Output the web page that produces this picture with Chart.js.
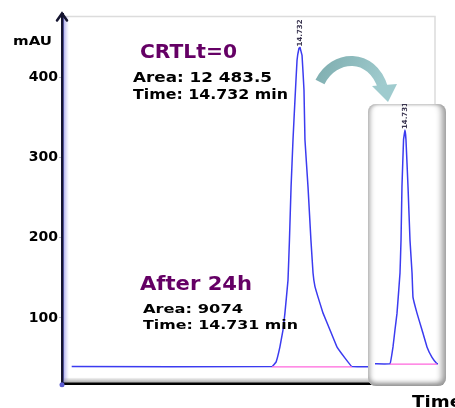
<!DOCTYPE html>
<html>
<head>
<meta charset="utf-8">
<script src="https://cdn.jsdelivr.net/npm/chart.js@4/dist/chart.umd.min.js"></script>
<style>
html,body{margin:0;padding:0;background:#fff;}
#wrap{position:relative;width:455px;height:408px;overflow:hidden;}
#main{position:absolute;left:0;top:0;}
#insetBox{position:absolute;left:368px;top:104px;width:78px;height:282px;border-radius:8px;background:#fff;
 box-shadow: inset 5px 0 5px -3px #a8a8a8, inset -8px 0 6px -4px #9a9a9a, inset 0 -7px 5px -4px #8c8c8c, inset 0 3px 3px -2px #c4c4c4;}
#inset{position:absolute;left:0;top:0;}
</style>
</head>
<body>
<div id="wrap">
<canvas id="main" width="455" height="408"></canvas>
<div id="insetBox"><canvas id="inset" width="78" height="282"></canvas></div>
</div>
<script>
// ---- data (time in min, signal in mAU) ----
const yTicks = [100, 200, 300, 400];

const ctrlTime   = [0.6, 13.0, 13.25, 13.49, 13.68, 13.80, 13.99, 14.08, 14.18, 14.30, 14.42, 14.55, 14.67, 14.73, 14.86, 14.98, 15.04, 15.23, 15.41, 15.54, 15.66, 15.85, 16.16, 16.59, 17.02, 17.52, 17.95, 20.0];
const ctrlSignal = [39.4, 39.4, 45, 64, 85, 106, 147, 197, 263, 322, 371, 421, 436, 437, 427, 384, 322, 263, 197, 156, 139, 126, 106, 85, 64, 50, 39.4, 39.4];
const ctrlBaseTime   = [13.0, 17.95];
const ctrlBaseSignal = [39.0, 39.0];

const h24Time   = [11.52, 13.13, 13.45, 13.66, 13.88, 14.20, 14.31, 14.41, 14.58, 14.73, 14.84, 15.06, 15.27, 15.49, 15.59, 16.02, 16.56, 17.09, 17.63, 18.16, 18.27];
const h24Signal = [43, 43, 64, 85, 106, 156, 197, 263, 322, 334, 322, 263, 197, 156, 126, 106, 85, 64, 51, 43, 43];
const h24BaseTime   = [13.13, 18.16];
const h24BaseSignal = [42.6, 42.6];

const ctrlLabel = "CRTLt=0";
const ctrlArea = "Area: 12 483.5";
const ctrlRt = "Time: 14.732 min";
const h24Label = "After 24h";
const h24Area = "Area: 9074";
const h24Rt = "Time: 14.731 min";
const ctrlPeakTag = "14.732";
const h24PeakTag = "14.731";

const pts = (xs, ys) => xs.map((x, i) => ({x, y: ys[i]}));

function fitText(ctx, text, x, y, w, font, color) {
  ctx.save();
  ctx.font = font;
  ctx.fillStyle = color;
  ctx.textBaseline = 'middle';
  ctx.textAlign = 'left';
  const m = ctx.measureText(text).width;
  ctx.translate(x, y);
  ctx.scale(w / m, 1);
  ctx.fillText(text, 0, 0);
  ctx.restore();
}

function peakTag(ctx, text, px, pyTop) {
  ctx.save();
  ctx.translate(px, pyTop - 1);
  ctx.rotate(-Math.PI / 2);
  ctx.font = 'bold 7px "DejaVu Sans"';
  ctx.textBaseline = 'middle';
  ctx.textAlign = 'left';
  ctx.fillStyle = '#3a3550';
  ctx.fillText(text, 0, 0);
  ctx.restore();
}

const decoMain = {
  id: 'decoMain',
  beforeDatasetsDraw(chart) {
    const ctx = chart.ctx, a = chart.chartArea;
    ctx.save();
    // frame
    ctx.strokeStyle = '#dcdcdc'; ctx.lineWidth = 1.5;
    ctx.beginPath(); ctx.moveTo(a.left + 3, a.top + 2); ctx.lineTo(435, a.top + 2); ctx.lineTo(435, 104); ctx.stroke();
    // y axis blue shade
    const g = ctx.createLinearGradient(a.left, 0, a.left + 7, 0);
    g.addColorStop(0, 'rgba(110,110,220,0.75)'); g.addColorStop(1, 'rgba(160,160,240,0)');
    ctx.fillStyle = g; ctx.fillRect(a.left + 1, a.top + 2, 7, a.bottom - a.top - 3);
    // bottom gray band
    const g2 = ctx.createLinearGradient(0, a.bottom - 6, 0, a.bottom);
    g2.addColorStop(0, 'rgba(150,150,150,0.1)'); g2.addColorStop(1, 'rgba(140,140,140,0.9)');
    ctx.fillStyle = g2; ctx.fillRect(a.left + 2, a.bottom - 6, 368 - a.left, 5);
    ctx.restore();
  },
  afterDraw(chart) {
    const ctx = chart.ctx, a = chart.chartArea;
    const xs = chart.scales.x, ys = chart.scales.y;
    ctx.save();
    // y axis arrow head
    ctx.strokeStyle = '#151530'; ctx.lineWidth = 2.5; ctx.lineCap = 'round';
    ctx.beginPath(); ctx.moveTo(a.left - 5, a.top + 6); ctx.lineTo(a.left, a.top - 1); ctx.lineTo(a.left + 5, a.top + 6); ctx.stroke();
    // x axis
    ctx.strokeStyle = '#000'; ctx.lineWidth = 2.5;
    ctx.beginPath(); ctx.moveTo(a.left, a.bottom); ctx.lineTo(a.right + 2, a.bottom); ctx.stroke();
    ctx.fillStyle = '#5a5ad0';
    ctx.beginPath(); ctx.arc(a.left, a.bottom + 1, 2.5, 0, Math.PI * 2); ctx.fill();
    // curved arrow
    const ag = ctx.createLinearGradient(320, 60, 395, 100);
    ag.addColorStop(0, '#7faeb0'); ag.addColorStop(1, '#a9d3d6');
    ctx.strokeStyle = ag; ctx.lineWidth = 10; ctx.lineCap = 'butt';
    ctx.beginPath(); ctx.moveTo(320, 82); ctx.bezierCurveTo(334, 54, 372, 52, 383, 88); ctx.stroke();
    ctx.fillStyle = '#9fcbce';
    ctx.beginPath(); ctx.moveTo(372, 86); ctx.lineTo(397, 84); ctx.lineTo(388, 102); ctx.closePath(); ctx.fill();
    // peak tag
    const pi = ctrlSignal.indexOf(Math.max(...ctrlSignal));
    peakTag(ctx, ctrlPeakTag, xs.getPixelForValue(ctrlTime[pi]), ys.getPixelForValue(ctrlSignal[pi]));
    // texts
    fitText(ctx, 'mAU', 13, 42, 39, 'bold 12px "DejaVu Sans"', '#000');
    fitText(ctx, ctrlLabel, 140, 53, 97, 'bold 19px "DejaVu Sans"', '#650065');
    fitText(ctx, ctrlArea, 133, 78, 139, 'bold 14px "DejaVu Sans"', '#000');
    fitText(ctx, ctrlRt, 133, 95, 155, 'bold 14px "DejaVu Sans"', '#000');
    fitText(ctx, h24Label, 140, 285, 112, 'bold 19px "DejaVu Sans"', '#650065');
    fitText(ctx, h24Area, 143, 310, 100, 'bold 13px "DejaVu Sans"', '#000');
    fitText(ctx, h24Rt, 143, 326, 155, 'bold 13px "DejaVu Sans"', '#000');
    fitText(ctx, 'Time', 412, 403, 50, 'bold 15px "DejaVu Sans"', '#000');
    ctx.restore();
  }
};

new Chart(document.getElementById('main'), {
  type: 'line',
  data: {
    datasets: [
      {data: pts(ctrlBaseTime, ctrlBaseSignal), borderColor: '#ff66dd', borderWidth: 1.3, pointRadius: 0},
      {data: pts(ctrlTime, ctrlSignal), borderColor: '#3b3bf0', borderWidth: 1.5, pointRadius: 0, tension: 0.05, borderJoinStyle: 'round'}
    ]
  },
  options: {
    responsive: false, animation: false, events: [],
    plugins: {legend: {display: false}, tooltip: {enabled: false}},
    layout: {padding: {top: 14.5, bottom: 24.2, left: 0, right: 15}},
    scales: {
      x: {type: 'linear', min: 0, max: 23.4, display: false},
      y: {
        min: 18, max: 478,
        afterFit(s) { s.width = 62; },
        afterBuildTicks(s) { s.ticks = yTicks.map(v => ({value: v})); },
        ticks: {color: '#000', padding: 1, font: {family: 'DejaVu Sans', weight: 'bold', size: 14}},
        grid: {drawOnChartArea: false, tickLength: 3, color: '#b8b8c8'},
        border: {color: '#151530', width: 3}
      }
    }
  },
  plugins: [decoMain]
});

const decoInset = {
  id: 'decoInset',
  afterDraw(chart) {
    const xs = chart.scales.x, ys = chart.scales.y;
    const pi = h24Signal.indexOf(Math.max(...h24Signal));
    peakTag(chart.ctx, h24PeakTag, xs.getPixelForValue(h24Time[pi]), ys.getPixelForValue(h24Signal[pi]));
  }
};

new Chart(document.getElementById('inset'), {
  type: 'line',
  data: {
    datasets: [
      {data: pts(h24BaseTime, h24BaseSignal), borderColor: '#ff66dd', borderWidth: 1.3, pointRadius: 0},
      {data: pts(h24Time, h24Signal), borderColor: '#3b3bf0', borderWidth: 1.5, pointRadius: 0, tension: 0.05, borderJoinStyle: 'round'}
    ]
  },
  options: {
    responsive: false, animation: false, events: [],
    plugins: {legend: {display: false}, tooltip: {enabled: false}},
    layout: {padding: {top: 5.2, bottom: 11.8, left: 4, right: 4}},
    scales: {
      x: {type: 'linear', min: 11.2, max: 18.7, display: false},
      y: {min: 30, max: 360, display: false}
    }
  },
  plugins: [decoInset]
});
</script>
</body>
</html>
